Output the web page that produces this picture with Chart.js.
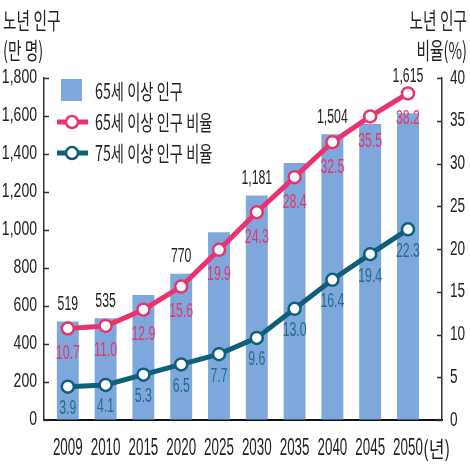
<!DOCTYPE html>
<html>
<head>
<meta charset="utf-8">
<script src="https://cdn.jsdelivr.net/npm/chart.js@4/dist/chart.umd.min.js"></script>
<style>
  body { margin: 0; background: #fff; }
</style>
</head>
<body>
<canvas id="chart" width="470" height="470"></canvas>
<script>
// 노년 인구 추이
var years = ["2009", "2010", "2015", "2020", "2025", "2030", "2035", "2040", "2045", "2050"];
var pop65 = [519, 535, 658, 770, 988, 1181, 1353, 1504, 1558, 1615];
var ratio65 = [10.7, 11.0, 12.9, 15.6, 19.9, 24.3, 28.4, 32.5, 35.5, 38.2];
var ratio75 = [3.9, 4.1, 5.3, 6.5, 7.7, 9.6, 13.0, 16.4, 19.4, 22.3];
var popLabelYears = ["2009", "2010", "2020", "2030", "2040", "2050"];
var leftTicks = [0, 200, 400, 600, 800, 1000, 1200, 1400, 1600, 1800];
var rightTicks = [0, 5, 10, 15, 20, 25, 30, 35, 40];

var BAR = '#7ea8dc';
var PINK = '#e8336f';
var TEAL = '#0f5e7a';
var TEAL_TXT = '#236c8c';
var NUM = "'Liberation Sans', Arial, sans-serif";
var KOR = "'Noto Sans CJK KR', sans-serif";

// the original uses a very condensed face, so squeeze text horizontally
function txt(ctx, s, x, y, size, family, color, align, sx) {
  ctx.save();
  ctx.font = size + 'px ' + family;
  ctx.fillStyle = color;
  ctx.textAlign = align;
  ctx.textBaseline = 'middle';
  ctx.translate(x, y);
  ctx.scale(sx, 1);
  ctx.fillText(s, 0, 0);
  var w = ctx.measureText(s).width * sx;
  ctx.restore();
  return w;
}

var extras = {
  id: 'extras',
  afterDatasetsDraw: function(chart) {
    var ctx = chart.ctx;
    var bars = chart.getDatasetMeta(0).data;
    var pinks = chart.getDatasetMeta(1).data;
    var teals = chart.getDatasetMeta(2).data;
    for (var i = 0; i < years.length; i++) {
      if (popLabelYears.indexOf(years[i]) >= 0) {
        var top = Math.min(bars[i].y, pinks[i].y);
        txt(ctx, pop65[i].toLocaleString('en-US'), bars[i].x, top - 17, 19.5, NUM, '#222', 'center', 0.63);
      }
      txt(ctx, ratio65[i].toFixed(1), pinks[i].x, pinks[i].y + 25, 19.5, NUM, PINK, 'center', 0.63);
      txt(ctx, ratio75[i].toFixed(1), teals[i].x, teals[i].y + 22, 19.5, NUM, TEAL_TXT, 'center', 0.63);
    }
  },
  afterDraw: function(chart) {
    var ctx = chart.ctx;
    var yl = chart.scales.y, yr = chart.scales.y2, x = chart.scales.x;
    ctx.save();
    // inward tick marks + tick labels
    ctx.strokeStyle = '#333';
    ctx.lineWidth = 1.5;
    leftTicks.forEach(function(v) {
      var py = yl.getPixelForValue(v);
      var ly = Math.round(py) + 0.5;
      ctx.beginPath(); ctx.moveTo(yl.right, ly); ctx.lineTo(yl.right + 5, ly); ctx.stroke();
      txt(ctx, v.toLocaleString('en-US'), 37, py, 19.5, NUM, '#222', 'right', 0.72);
    });
    rightTicks.forEach(function(v) {
      var py = yr.getPixelForValue(v);
      var ly = Math.round(py) + 0.5;
      ctx.beginPath(); ctx.moveTo(yr.left, ly); ctx.lineTo(yr.left - 5, ly); ctx.stroke();
      txt(ctx, String(v), 450, py, 20, NUM, '#222', 'left', 0.68);
    });
    var last = 0;
    years.forEach(function(y, i) {
      var w = txt(ctx, y, x.getPixelForValue(i), 449, 23.5, NUM, '#222', 'center', 0.57);
      last = x.getPixelForValue(i) + w / 2;
    });
    txt(ctx, '(년)', last, 449, 22, KOR, '#222', 'left', 0.78);

    // axis titles
    txt(ctx, '노년 인구', 3, 20, 23, KOR, '#222', 'left', 0.64);
    txt(ctx, '(만 명)', 3, 50, 23, KOR, '#222', 'left', 0.64);
    txt(ctx, '노년 인구', 467, 20, 23, KOR, '#222', 'right', 0.64);
    txt(ctx, '비율(%)', 467, 50, 23, KOR, '#222', 'right', 0.64);

    // legend
    var ds = chart.data.datasets;
    ctx.fillStyle = BAR;
    ctx.fillRect(61, 79, 21, 22);
    [[PINK, 122], [TEAL, 153]].forEach(function(it) {
      ctx.strokeStyle = it[0];
      ctx.lineWidth = 5;
      ctx.beginPath(); ctx.moveTo(57, it[1]); ctx.lineTo(88, it[1]); ctx.stroke();
      ctx.fillStyle = '#fff';
      ctx.lineWidth = 2.5;
      ctx.beginPath(); ctx.arc(72, it[1], 6, 0, Math.PI * 2); ctx.fill(); ctx.stroke();
    });
    txt(ctx, ds[0].label, 95, 91, 21, KOR, '#222', 'left', 0.68);
    txt(ctx, ds[1].label, 95, 122, 21, KOR, '#222', 'left', 0.68);
    txt(ctx, ds[2].label, 95, 153, 21, KOR, '#222', 'left', 0.68);
    ctx.restore();
  }
};

new Chart(document.getElementById('chart'), {
  data: {
    labels: years,
    datasets: [{
      type: 'bar',
      label: '65세 이상 인구',
      data: pop65,
      backgroundColor: BAR,
      categoryPercentage: 1,
      barPercentage: 0.58,
      yAxisID: 'y',
      order: 3
    }, {
      type: 'line',
      label: '65세 이상 인구 비율',
      data: ratio65,
      borderColor: PINK,
      borderWidth: 5,
      pointRadius: 6,
      pointBorderWidth: 2.5,
      pointBackgroundColor: '#fff',
      pointBorderColor: PINK,
      tension: 0,
      yAxisID: 'y2',
      order: 1
    }, {
      type: 'line',
      label: '75세 이상 인구 비율',
      data: ratio75,
      borderColor: TEAL,
      borderWidth: 5,
      pointRadius: 6,
      pointBorderWidth: 2.5,
      pointBackgroundColor: '#fff',
      pointBorderColor: TEAL,
      tension: 0,
      yAxisID: 'y2',
      order: 2
    }]
  },
  options: {
    responsive: false,
    animation: false,
    layout: { padding: { top: 78, left: 0, right: 0, bottom: 0 } },
    plugins: { legend: { display: false }, tooltip: { enabled: false } },
    scales: {
      x: {
        offset: true,
        grid: { drawOnChartArea: false, drawTicks: false },
        border: { color: '#111', width: 2 },
        ticks: { display: false },
        afterBuildTicks: function(s) { s._startValue = -0.63; s._valueRange = 10.53; },
        afterFit: function(s) { s.height = 50; }
      },
      y: {
        position: 'left',
        min: 0, max: 1800,
        grid: { drawOnChartArea: false, drawTicks: false },
        border: { color: '#333', width: 1.5 },
        ticks: { stepSize: 200, display: false },
        afterFit: function(s) { s.width = 44; }
      },
      y2: {
        position: 'right',
        min: 0, max: 40,
        grid: { drawOnChartArea: false, drawTicks: false },
        border: { color: '#333', width: 1.5 },
        ticks: { stepSize: 5, display: false },
        afterFit: function(s) { s.width = 28; }
      }
    }
  },
  plugins: [extras]
});
</script>
</body>
</html>
